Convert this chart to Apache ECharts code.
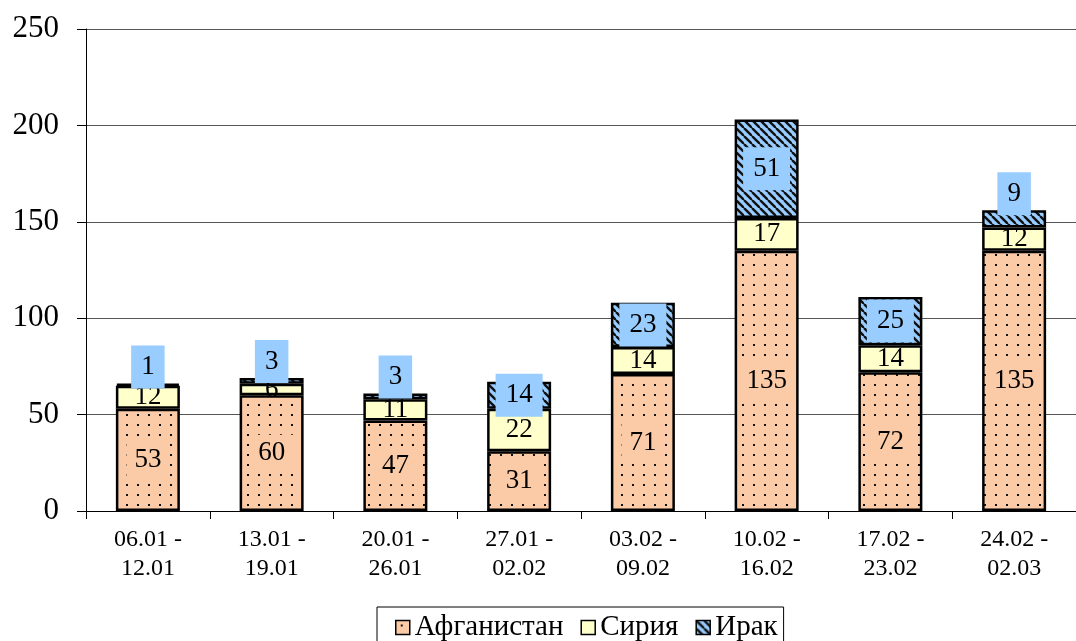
<!DOCTYPE html>
<html>
<head>
<meta charset="utf-8">
<script src="https://cdn.jsdelivr.net/npm/echarts@6/dist/echarts.min.js"></script>
<style>
html,body{margin:0;padding:0;background:#fff;}
#chart{width:1076px;height:641px;}
</style>
</head>
<body>
<div id="chart"></div>
<script>
const categories = ['06.01 -\n12.01','13.01 -\n19.01','20.01 -\n26.01','27.01 -\n02.02','03.02 -\n09.02','10.02 -\n16.02','17.02 -\n23.02','24.02 -\n02.03'];
const afghanistan = [53, 60, 47, 31, 71, 135, 72, 135];
const syria = [12, 6, 11, 22, 14, 17, 14, 12];
const iraq = [1, 3, 3, 14, 23, 51, 25, 9];
const seriesNames = ['Афганистан', 'Сирия', 'Ирак'];
const yTicks = {min: 0, max: 250, interval: 50};

const PEACH = '#FBCBA8', YELLOW = '#FFFFCC', BLUE = '#99CCFF';
const FONT = '"Liberation Serif", "Times New Roman", serif';

function dotPattern(){
  const c = document.createElement('canvas'); c.width = 11; c.height = 10;
  const g = c.getContext('2d');
  g.fillStyle = PEACH; g.fillRect(0,0,11,10);
  g.fillStyle = '#111'; g.fillRect(5,4,2,2);
  return c;
}
function hatchPattern(){
  const s = 8;
  const c = document.createElement('canvas'); c.width = s; c.height = s;
  const g = c.getContext('2d');
  g.fillStyle = BLUE; g.fillRect(0,0,s,s);
  g.strokeStyle = '#111'; g.lineWidth = 2.4;
  for (let k = -1; k <= 1; k++){
    g.beginPath(); g.moveTo(k*s, 0); g.lineTo(k*s + s, s); g.stroke();
  }
  return c;
}

const chart = echarts.init(document.getElementById('chart'));
const barBase = {type: 'bar', stack: 'total', barWidth: 64};
const labelBase = {show: true, position: 'inside', fontFamily: FONT, fontSize: 27, color: '#000'};

chart.setOption({
  animation: false,
  backgroundColor: '#fff',
  grid: {left: 86, top: 29, bottom: 130, right: -12, containLabel: false},
  legend: {
    data: seriesNames,
    left: 377, top: 607,
    icon: 'rect', itemWidth: 14, itemHeight: 14, itemGap: 17,
    borderColor: '#000', borderWidth: 1,
    padding: [6, 6, 12, 18],
    itemStyle: {borderWidth: 1.5, borderColor: '#000'},
    textStyle: {fontFamily: FONT, fontSize: 29, color: '#000'}
  },
  xAxis: {
    type: 'category', data: categories,
    axisLine: {lineStyle: {color: '#000', width: 1}},
    axisTick: {show: true, alignWithLabel: false, length: 8, lineStyle: {color: '#000'}},
    axisLabel: {interval: 0, fontFamily: FONT, fontSize: 24, lineHeight: 29, color: '#000', margin: 14}
  },
  yAxis: {
    type: 'value', min: yTicks.min, max: yTicks.max, interval: yTicks.interval,
    axisLine: {show: true, lineStyle: {color: '#000', width: 1}},
    axisTick: {show: true, length: 9, lineStyle: {color: '#000'}},
    axisLabel: {fontFamily: FONT, fontSize: 31, color: '#000', margin: 27},
    splitLine: {lineStyle: {color: '#555', width: 1}}
  },
  series: [
    Object.assign({}, barBase, {
      name: seriesNames[0], data: afghanistan,
      itemStyle: {color: {image: dotPattern(), repeat: 'repeat'}, borderColor: '#000', borderWidth: 2.5},
      label: Object.assign({}, labelBase, {backgroundColor: PEACH, padding: [5, 8]})
    }),
    Object.assign({}, barBase, {
      name: seriesNames[1], data: syria,
      itemStyle: {color: YELLOW, borderColor: '#000', borderWidth: 2.5},
      label: Object.assign({}, labelBase)
    }),
    Object.assign({}, barBase, {
      name: seriesNames[2],
      data: iraq.map(v => v < 10 ? {value: v, label: {position: 'top', distance: -5}} : v),
      itemStyle: {color: {image: hatchPattern(), repeat: 'repeat'}, borderColor: '#000', borderWidth: 2.5},
      label: Object.assign({}, labelBase, {backgroundColor: BLUE, padding: [8, 10]})
    })
  ]
});
</script>
</body>
</html>
